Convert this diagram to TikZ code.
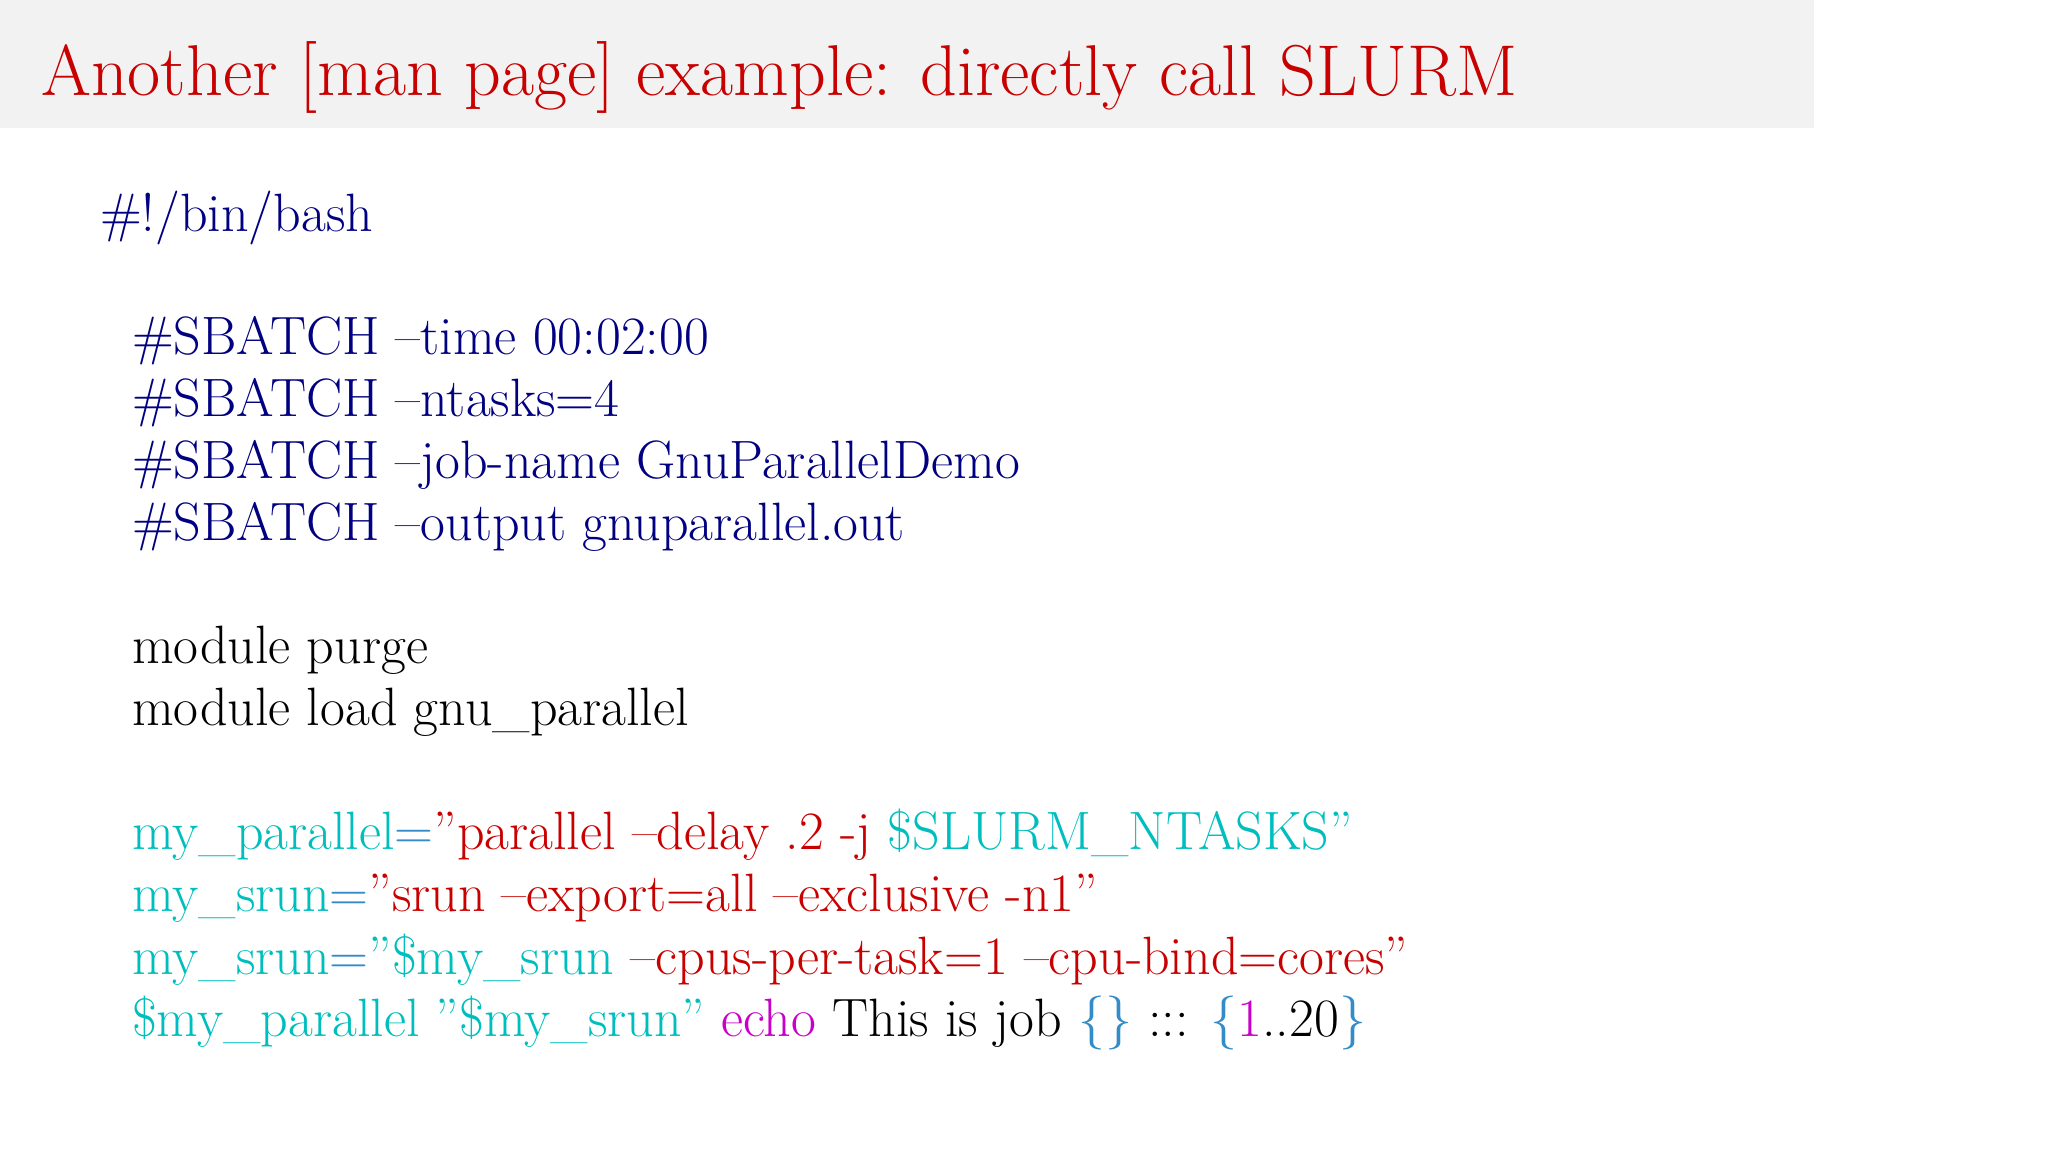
\documentclass[tikz,border=0pt]{standalone}
\usepackage{fontspec}
\definecolor{bgray}{RGB}{242,242,242}
\definecolor{ttl}{RGB}{200,0,0}
\definecolor{navyc}{RGB}{0,0,128}
\definecolor{redc}{RGB}{200,0,0}
\definecolor{cyanc}{RGB}{0,190,190}
\definecolor{magc}{RGB}{200,0,200}
\definecolor{bluec}{RGB}{50,140,200}
\tikzset{txt/.style={anchor=base west,inner sep=0pt,font=\fontsize{54}{60}\selectfont}}
\begin{document}
\begin{tikzpicture}[x=1pt,y=-1pt]
\useasboundingbox (0,0) rectangle (2048,1152);
\fill[bgray] (0,0) rectangle (1814,128);
\node[txt,font=\fontsize{72}{80}\selectfont,text=ttl] (title) at (41,95) {Another [man page] example: directly call SLURM};
\node[txt,text=navyc] (l0) at (100,231) {\#!/bin/bash};
\node[txt,text=navyc] (l1) at (132,354) {\#SBATCH --time 00:02:00};
\node[txt,text=navyc] (l2) at (132,416) {\#SBATCH --ntasks=4};
\node[txt,text=navyc] (l3) at (132,478) {\#SBATCH --job-name GnuParallelDemo};
\node[txt,text=navyc] (l4) at (132,540) {\#SBATCH --output gnuparallel.out};
\node[txt] (l5) at (132,663) {module purge};
\node[txt] (l6) at (132,725) {module load gnu\_parallel};
\node[txt] (l7) at (132,849) {\textcolor{cyanc}{my\_parallel}\textcolor{bluec}{=}\textcolor{redc}{”parallel --delay .2 -j }\textcolor{cyanc}{\$SLURM\_NTASKS”}};
\node[txt] (l8) at (132,911) {\textcolor{cyanc}{my\_srun}\textcolor{bluec}{=}\textcolor{redc}{”srun --export=all --exclusive -n1”}};
\node[txt] (l9) at (132,974) {\textcolor{cyanc}{my\_srun}\textcolor{bluec}{=}\textcolor{cyanc}{”\$my\_srun }\textcolor{redc}{--cpus-per-task=1 --cpu-bind=cores”}};
\node[txt] (l10) at (132,1036) {\textcolor{cyanc}{\$my\_parallel ”\$my\_srun” }\textcolor{magc}{echo} This is job \textcolor{bluec}{\{\}} ::: \textcolor{bluec}{\{}\textcolor{magc}{1}..20\textcolor{bluec}{\}}};
\end{tikzpicture}
\end{document}
